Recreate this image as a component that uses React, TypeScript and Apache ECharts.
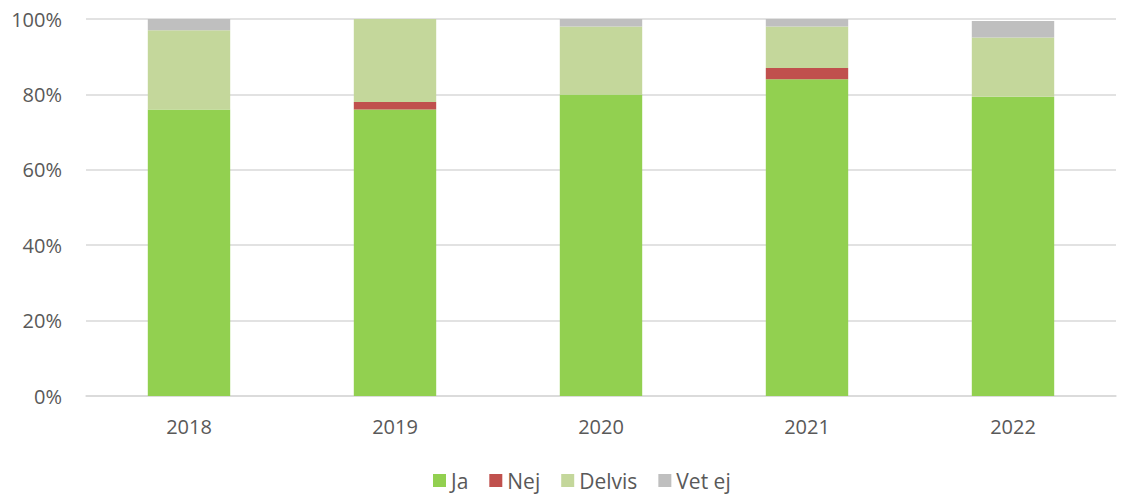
import React, { useEffect, useRef } from "react";
import * as echarts from "echarts";

const categories = ["2018", "2019", "2020", "2021", "2022"];
const ja = [76, 76, 80, 84, 79.4];
const nej = [0, 2, 0, 3, 0];
const delvis = [21, 22, 18, 11, 15.7];
const vetEj = [3, 0, 2, 2, 4.4];
const yTicks = { min: 0, max: 100, interval: 20 };

const FONT = "Open Sans";
const TEXT = "#595959";

export default function App() {
  const ref = useRef<HTMLDivElement>(null);
  useEffect(() => {
    if (!ref.current) return;
    const chart = echarts.init(ref.current, null, { renderer: "svg" });
    const mk = (name: string, data: number[], color: string) => ({
      name,
      type: "bar",
      stack: "total",
      data,
      barWidth: "40%",
      itemStyle: { color },
      emphasis: { disabled: true },
    });
    chart.setOption({
      animation: false,
      textStyle: { fontFamily: FONT },
      grid: { left: 86, right: 11, top: 19, bottom: 99, containLabel: false },
      legend: {
        left: 433,
        top: 470,
        padding: 0,
        itemWidth: 13,
        itemHeight: 13,
        itemGap: 21,
        icon: "rect",
        textStyle: { color: TEXT, fontSize: 21, fontFamily: FONT },
        data: ["Ja", "Nej", "Delvis", "Vet ej"],
      },
      xAxis: {
        type: "category",
        data: categories,
        axisLine: { show: true, lineStyle: { color: "#d9d9d9", width: 1.5 } },
        axisTick: { show: false },
        axisLabel: { color: TEXT, fontSize: 20, margin: 20, fontFamily: FONT },
      },
      yAxis: {
        type: "value",
        min: yTicks.min,
        max: yTicks.max,
        interval: yTicks.interval,
        axisLine: { show: false },
        axisTick: { show: false },
        splitLine: { lineStyle: { color: "#d9d9d9", width: 1.5 } },
        axisLabel: { color: TEXT, fontSize: 20, margin: 24, fontFamily: FONT, formatter: "{value}%" },
      },
      series: [
        mk("Ja", ja, "#92D050"),
        mk("Nej", nej, "#C0504D"),
        mk("Delvis", delvis, "#C4D79B"),
        mk("Vet ej", vetEj, "#BFBFBF"),
      ],
    });
    return () => chart.dispose();
  }, []);
  return (
    <div
      ref={ref}
      style={{ position: "absolute", left: 0, top: 0, width: 1127, height: 495, background: "#fff" }}
    />
  );
}
